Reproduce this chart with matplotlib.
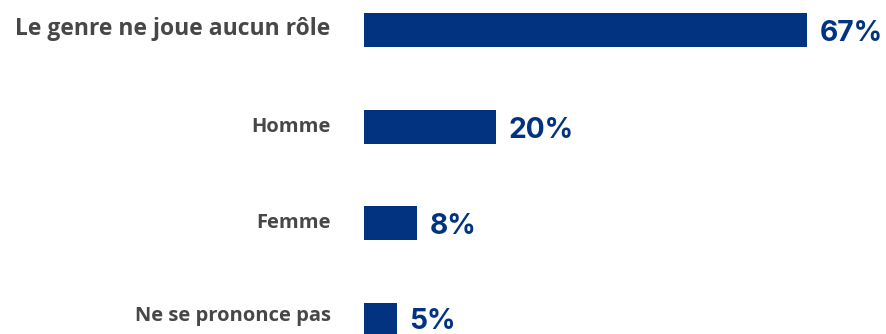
import matplotlib
matplotlib.use("Agg")
import matplotlib.pyplot as plt

categories = ["Le genre ne joue aucun rôle", "Homme", "Femme", "Ne se prononce pas"]
values = [67, 20, 8, 5]
value_labels = ["67%", "20%", "8%", "5%"]

BAR_COLOR = "#023381"
LABEL_COLOR = "#474747"

W, H, DPI = 886, 334, 100
fig = plt.figure(figsize=(W / DPI, H / DPI), dpi=DPI)
fig.patch.set_facecolor("white")

# axes occupy the right part of the figure, bars start at its left edge
left_px = 364
ax = fig.add_axes([left_px / W, 0, (W - left_px) / W, 1])
ax.set_facecolor("none")

ypos = list(range(len(categories)))
ax.barh(ypos, values, height=0.352, color=BAR_COLOR, linewidth=0)
ax.set_xlim(0, 67 * (W - left_px) / 443)
ax.set_ylim(3.15, -0.311)
ax.axis("off")

# text baselines are placed relative to each bar's centre (offsets in points)
label_sizes = [16.5, 14.5, 14.5, 14.5]
label_base = [-3.6, -3.6, -3.4, -1.2]
value_base = [-8.1, -8.1, -8.1, -6.8]
for i, (cat, v, lab) in enumerate(zip(categories, values, value_labels)):
    ax.annotate(cat, xy=(0, i), xycoords=("axes fraction", "data"),
                xytext=(-24, label_base[i]), textcoords="offset points",
                ha="right", va="baseline", fontsize=label_sizes[i],
                fontweight="bold", color=LABEL_COLOR, family="Open Sans")
    ax.annotate(lab, xy=(v, i), xycoords="data",
                xytext=(9, value_base[i]), textcoords="offset points",
                ha="left", va="baseline", fontsize=20.3,
                fontweight="bold", color=BAR_COLOR, family="Inter")

fig.savefig("out.png", dpi=DPI, facecolor="white")
